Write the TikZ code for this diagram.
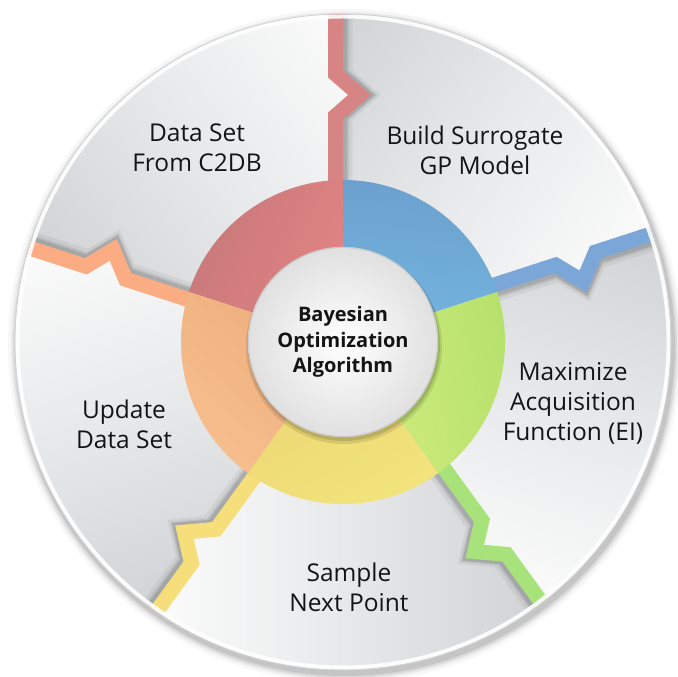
\documentclass[tikz,border=0pt]{standalone}
\usepackage{fontspec}
\setmainfont{Open Sans}
\usetikzlibrary{calc}
\definecolor{sgray}{RGB}{204,206,209}
\definecolor{redA}{RGB}{200,120,122}
\definecolor{redB}{RGB}{226,132,132}
\definecolor{blueA}{RGB}{108,160,206}
\definecolor{blueB}{RGB}{115,182,224}
\definecolor{greenA}{RGB}{182,224,108}
\definecolor{greenB}{RGB}{210,238,128}
\definecolor{yellowA}{RGB}{242,228,124}
\definecolor{yellowB}{RGB}{236,214,116}
\definecolor{orangeA}{RGB}{247,192,142}
\definecolor{orangeB}{RGB}{238,172,124}
\definecolor{bandred}{RGB}{214,132,132}
\definecolor{bandblue}{RGB}{122,166,216}
\definecolor{bandgreen}{RGB}{168,226,122}
\definecolor{bandyellow}{RGB}{246,222,122}
\definecolor{bandorange}{RGB}{252,172,130}
\pgfdeclareverticalshading{secshade}{100bp}{color(0bp)=(white); color(33bp)=(white); color(50bp)=(sgray!45!white); color(68bp)=(sgray); color(100bp)=(sgray)}
\begin{document}
\begin{tikzpicture}[x=1pt,y=1pt,
  lbl/.style={font=\fontsize{24.5}{30}\selectfont, align=center, text=black!92},
  ctr/.style={font=\fontsize{20}{25.5}\selectfont\bfseries, align=center, text=black!92}]
\useasboundingbox (0,0) rectangle (678,677);
\coordinate (O) at (343,335);
% outer shadow
\foreach \i/\o in {9/0.03,6/0.05,4/0.07,2/0.09}{
  \fill[black,opacity=\o] ($(O)+(2,-4)$) circle (328+\i);
}
\fill[white] (O) circle (328);
% sectors
\begin{scope}
\clip (O) circle (328);
\foreach \a in {18,90,162,234,306}{
  \pgfmathsetmacro\b{\a+72}
  \pgfmathsetmacro\m{\a+36}
  \pgfmathsetmacro\pa{\a-90}
  \pgfmathsetmacro\pb{\b-90}
  \begin{scope}
  \clip ($(O)+(\pa:-7.5)$) -- ($(O)+(\a:226)+(\pa:-7.5)$) -- ($(O)+(\a:247)+(\pa:16.5)$)
     -- ($(O)+(\a:268)+(\pa:-7.5)$) -- ($(O)+(\a:400)+(\pa:-7.5)$) -- ($(O)+(\m:700)$)
     -- ($(O)+(\b:400)+(\pb:-7.5)$) -- ($(O)+(\b:268)+(\pb:-7.5)$) -- ($(O)+(\b:247)+(\pb:16.5)$)
     -- ($(O)+(\b:226)+(\pb:-7.5)$) -- ($(O)+(\pb:-7.5)$) -- cycle;
  \shade[shading=secshade, shading angle=\m] (O) circle (330);
  \end{scope}
}
% band shadows and bands
\foreach \a/\c in {90/bandred,18/bandblue,-54/bandgreen,-126/bandyellow,162/bandorange}{
  \pgfmathsetmacro\pa{\a-90}
  \foreach \s/\w/\o in {9/16/0.05,6/15/0.08,4/15/0.11}{
    \draw[black,opacity=\o,line width=\w,line join=miter,miter limit=10]
      ($(O)+(\a:150)+(\pa:-7.5+\s)$) -- ($(O)+(\a:226)+(\pa:-7.5+\s)$) -- ($(O)+(\a:247)+(\pa:16.5+\s)$)
      -- ($(O)+(\a:268)+(\pa:-7.5+\s)$) -- ($(O)+(\a:400)+(\pa:-7.5+\s)$);
  }
  \draw[\c,line width=15,line join=miter,miter limit=10]
      ($(O)+(\a:150)+(\pa:-7.5)$) -- ($(O)+(\a:226)+(\pa:-7.5)$) -- ($(O)+(\a:247)+(\pa:16.5)$)
      -- ($(O)+(\a:268)+(\pa:-7.5)$) -- ($(O)+(\a:400)+(\pa:-7.5)$);
}
\end{scope}
% rim
\draw[white,opacity=0.9,line width=4] (O) circle (325.5);
\draw[black!18,line width=0.8] (O) circle (328);
% ring segments
\foreach \a/\ca/\cb/\sa in {90/redA/redB/126,18/blueA/blueB/54,-54/greenA/greenB/-18,-126/yellowA/yellowB/-90,162/orangeA/orangeB/198}{
  \shade[top color=\ca, bottom color=\cb, shading angle=\sa-60]
    (O) -- ($(O)+(\a:162)$) arc[start angle=\a, delta angle=72, radius=162] -- cycle;
}
% centre circle
\fill[black,opacity=0.10] ($(O)+(1,-4)$) circle (98);
\fill[black,opacity=0.12] ($(O)+(1,-3)$) circle (96);
\shade[inner color=white, outer color=black!12] (O) circle (95);
\draw[black!20,line width=1.2] (O) circle (94.5);
\node[ctr] (center) at (O) {Bayesian\\Optimization\\Algorithm};
% labels
\node[lbl] (data) at (197,529) {Data Set\\From C2DB};
\node[lbl] (build) at (475,527) {Build Surrogate\\GP Model};
\node[lbl] (max) at (573,274) {Maximize\\Acquisition\\Function (EI)};
\node[lbl] (sample) at (349,90) {Sample\\Next Point};
\node[lbl] (update) at (124,253) {Update\\Data Set};
\end{tikzpicture}
\end{document}
